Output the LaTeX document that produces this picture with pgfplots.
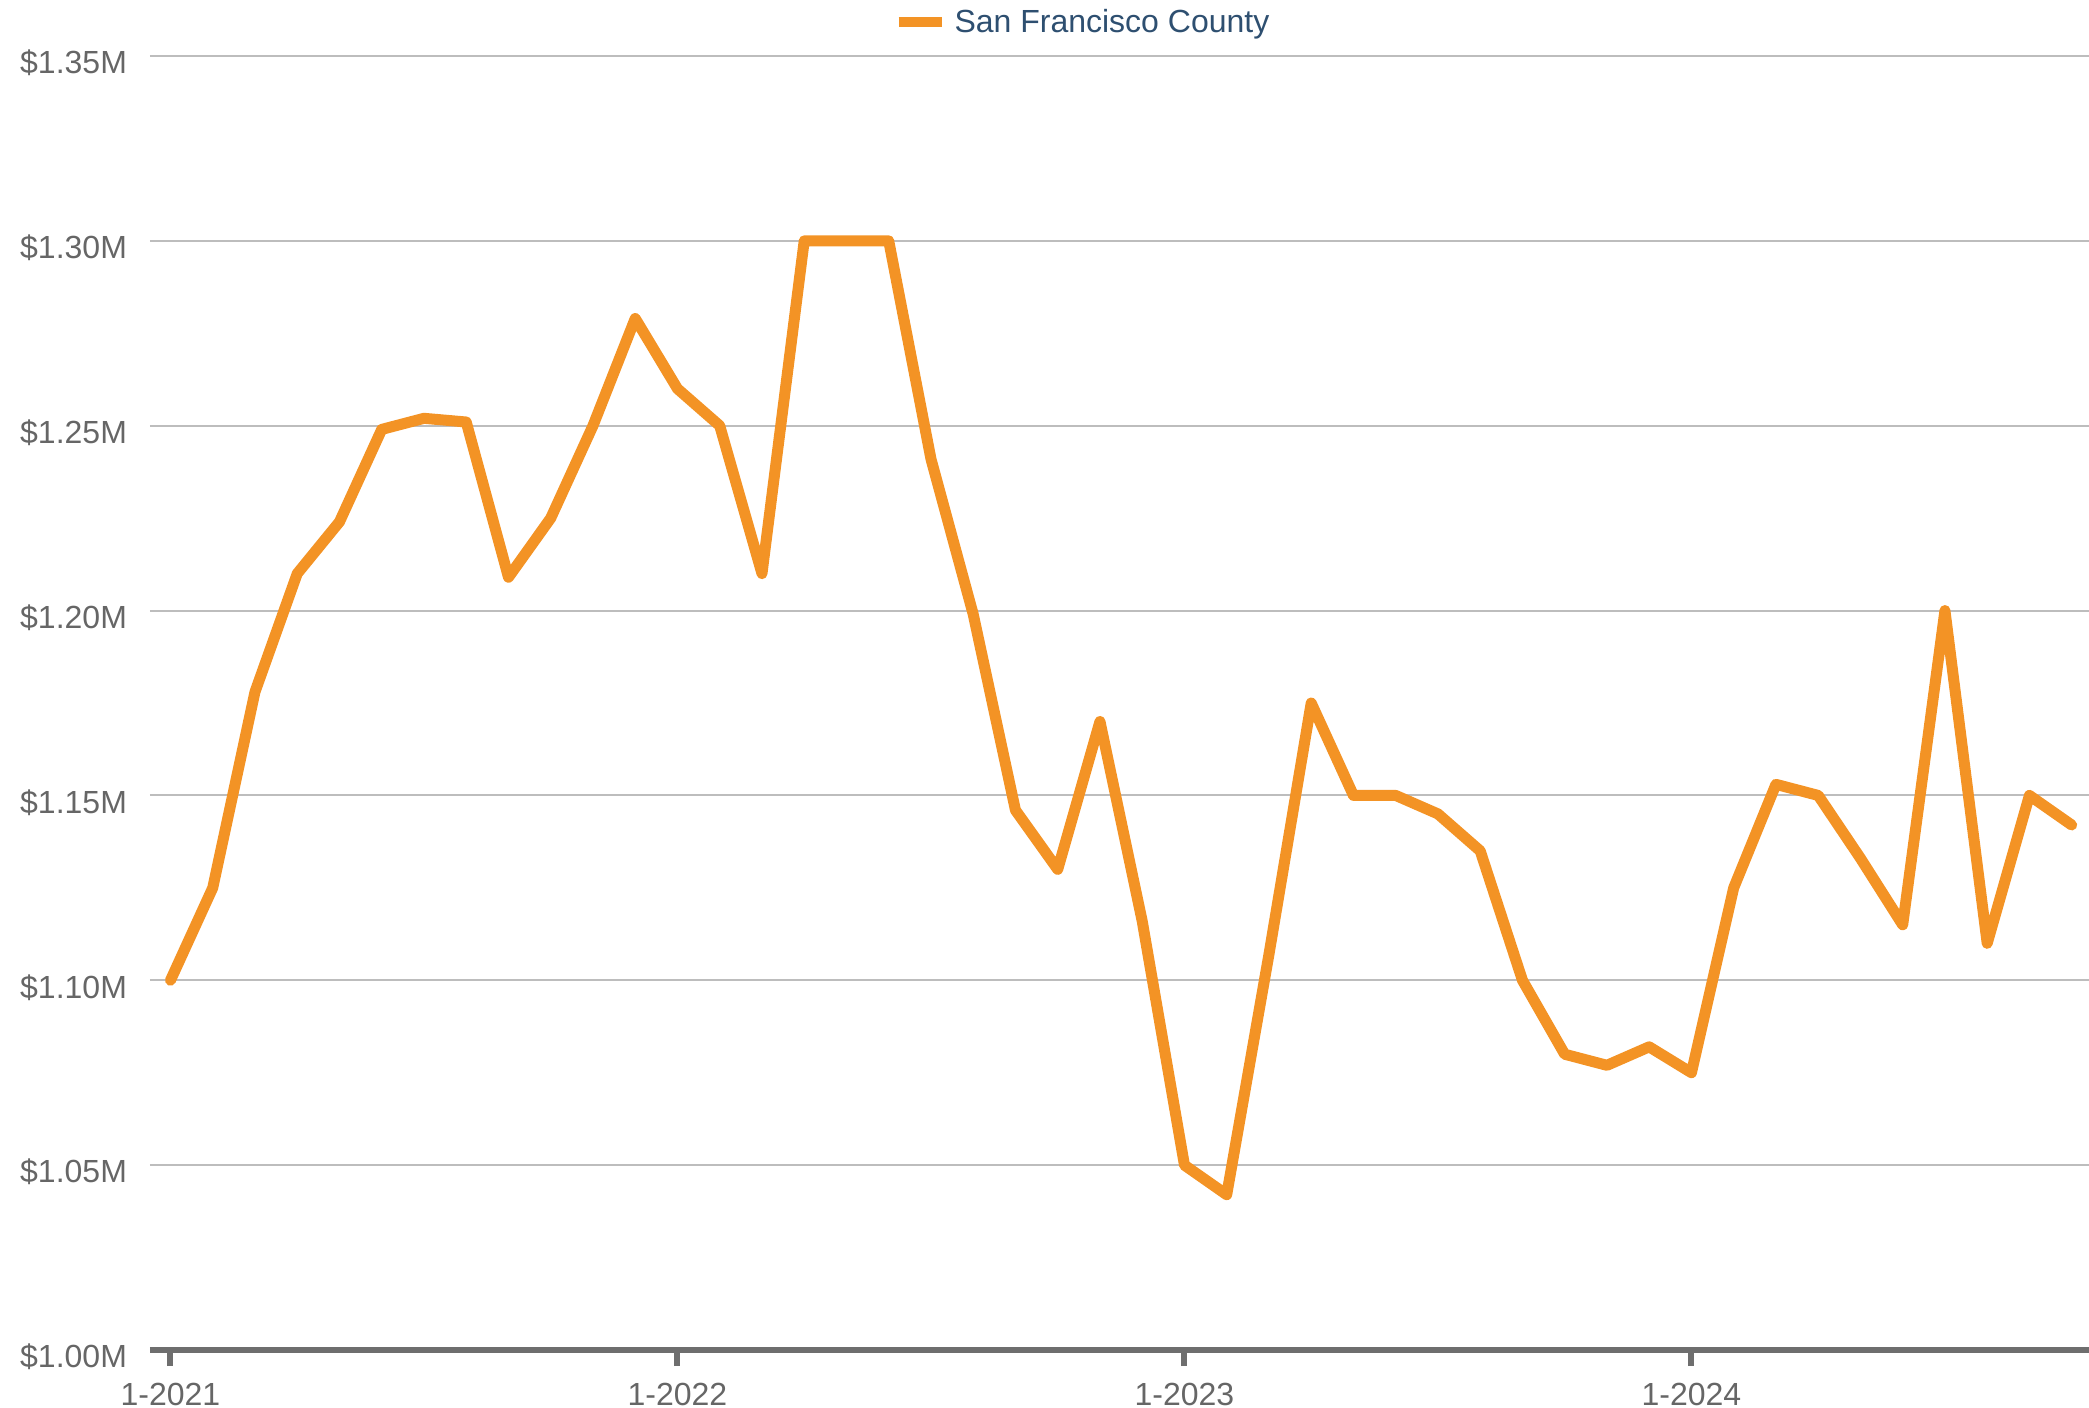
\documentclass[border=0pt]{standalone}
\usepackage{pgfplots}
\pgfplotsset{compat=1.18}
\usepackage{fontspec}
\setmainfont{Liberation Sans}
\definecolor{sforange}{HTML}{F39325}
\definecolor{ticklab}{HTML}{666666}
\definecolor{gridc}{HTML}{BDBDBD}
\definecolor{axisc}{HTML}{6E6E6E}
\definecolor{legtext}{HTML}{2E4F70}
\begin{document}
\begin{tikzpicture}
\useasboundingbox (-75pt,-29pt) rectangle (969.5pt,675pt);
\begin{axis}[
  scale only axis,
  width=969.5pt, height=647pt,
  xmin=-0.485, xmax=45.41,
  ymin=1.00, ymax=1.35,
  axis x line*=bottom,
  axis y line*=left,
  x axis line style={draw=axisc, line width=3pt, -},
  y axis line style={draw=none},
  xtick={0,12,24,36},
  xticklabels={1-2021,1-2022,1-2023,1-2024},
  ytick={1.00,1.05,1.10,1.15,1.20,1.25,1.30,1.35},
  yticklabels={\$1.00M,\$1.05M,\$1.10M,\$1.15M,\$1.20M,\$1.25M,\$1.30M,\$1.35M},
  ymajorgrids,
  grid style={draw=gridc, line width=1pt},
  x tick style={draw=axisc, line width=3pt},
  y tick style={draw=none},
  tick align=outside,
  x tick label style={yshift=-5pt},
  y tick label style={xshift=0pt, yshift=-3.5pt},
  major tick length=8pt,
  minor tick num=0,
  ticklabel style={font=\fontsize{16}{19}\selectfont, text=ticklab},
  legend style={draw=none, fill=none, at={(0.4814,1.0263)}, anchor=center,
    font=\fontsize{16}{19}\selectfont, text=legtext, inner sep=0pt,
    /tikz/every even column/.append style={column sep=0pt}},
  legend cell align=left,
  legend image code/.code={\draw[line width=5pt, line cap=butt, sforange] (0pt,0pt) -- (21.5pt,0pt);},
  clip=false,
]
\addplot[sforange, line width=5.5pt, line join=round, line cap=round] coordinates {
(0,1.100) (1,1.125) (2,1.178) (3,1.210) (4,1.224) (5,1.249) (6,1.252) (7,1.251)
(8,1.209) (9,1.225) (10,1.250) (11,1.279) (12,1.260) (13,1.250) (14,1.210) (15,1.300)
(16,1.300) (17,1.300) (18,1.241) (19,1.199) (20,1.146) (21,1.130) (22,1.170) (23,1.116)
(24,1.050) (25,1.042) (26,1.107) (27,1.175) (28,1.150) (29,1.150) (30,1.145) (31,1.135)
(32,1.100) (33,1.080) (34,1.077) (35,1.082) (36,1.075) (37,1.125) (38,1.153) (39,1.150)
(40,1.133) (41,1.115) (42,1.200) (43,1.110) (44,1.150) (45,1.142)
};
\addlegendentry{\hspace{2pt}San Francisco County}
\end{axis}
\end{tikzpicture}
\end{document}
